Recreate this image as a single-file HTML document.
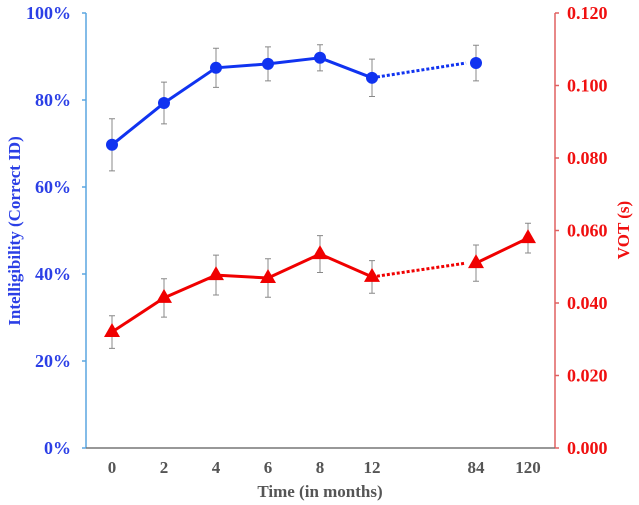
<!DOCTYPE html>
<html><head><meta charset="utf-8"><style>
body{margin:0;background:#fff}
svg{display:block;font-family:"Liberation Serif",serif;font-weight:bold}
</style></head><body>
<svg id="chart" width="639" height="505" viewBox="0 0 639 505" xmlns="http://www.w3.org/2000/svg">
<g id="axes"></g><g id="marks"></g>
</svg>
<script>
const categories = ["0","2","4","6","8","12","84","120"];
const slots = [0,1,2,3,4,5,7,8];
const intelligibility = [69.7,79.3,87.4,88.3,89.7,85.1,88.5,null];
const intelErr = [6.0,4.8,4.5,3.9,3.0,4.3,4.1,null];
const vot = [0.0320,0.0414,0.0477,0.0469,0.0535,0.0472,0.0510,0.0579];
const votErr = [0.0045,0.0053,0.0055,0.0053,0.0051,0.0045,0.0050,0.0041];
const leftTicks = [0,20,40,60,80,100];
const rightTicks = [0,0.02,0.04,0.06,0.08,0.10,0.12];

const NS="http://www.w3.org/2000/svg";
const X0=86,X1=555,Y0=448,Y1=13;
const xs=i=>112+slots[i]*52;
const yL=v=>Y0-(v/100)*(Y0-Y1);
const yR=v=>Y0-(v/0.12)*(Y0-Y1);
function mk(p,tag,at){const e=document.createElementNS(NS,tag);for(const k in at)e.setAttribute(k,at[k]);p.appendChild(e);return e;}
const axes=document.getElementById('axes'),marks=document.getElementById('marks');

let e;
e=mk(axes,'line',{x1:X0,y1:Y1,x2:X0,y2:Y0,stroke:'#5aa6e0','stroke-width':1.5});


e=mk(axes,'line',{x1:X1,y1:Y1,x2:X1,y2:Y0,stroke:'#e06060','stroke-width':1.5});


e=mk(axes,'line',{x1:X0,y1:Y0,x2:X1,y2:Y0,stroke:'#777','stroke-width':1.5});



leftTicks.forEach(t=>{
  mk(axes,'line',{x1:X0-4,y1:yL(t),x2:X0,y2:yL(t),stroke:'#5aa6e0','stroke-width':1.5});
  e=mk(axes,'text',{x:X0-15,y:yL(t)+6,'text-anchor':'end','font-size':18,fill:'#2b3fe6'});
  e.textContent=t+'%';
  
  
});
rightTicks.forEach(t=>{
  mk(axes,'line',{x1:X1,y1:yR(t),x2:X1+4,y2:yR(t),stroke:'#e06060','stroke-width':1.5});
  e=mk(axes,'text',{x:X1+12,y:yR(t)+6,'text-anchor':'start','font-size':18,fill:'#f01010'});
  e.textContent=t.toFixed(3);
  
  
});
categories.forEach((c,i)=>{
  e=mk(axes,'text',{x:xs(i),y:473,'text-anchor':'middle','font-size':17,fill:'#555'});
  e.textContent=c;
  
  
});
e=mk(axes,'text',{x:320,y:497,'text-anchor':'middle','font-size':17,fill:'#555'});
e.textContent='Time (in months)';


e=mk(axes,'text',{x:0,y:0,transform:'translate(20,231) rotate(-90)','text-anchor':'middle','font-size':17,fill:'#2b3fe6'});
e.textContent='Intelligibility (Correct ID)';


e=mk(axes,'text',{x:0,y:0,transform:'translate(629,230) rotate(-90)','text-anchor':'middle','font-size':17,fill:'#f01010'});
e.textContent='VOT (s)';



function series(vals,errs,yf,color,name,tri){
  const pts=[];vals.forEach((v,i)=>{if(v!==null)pts.push([xs(i),yf(v),i]);});
  pts.forEach(([x,y,i])=>{
    const lo=yf(vals[i]-errs[i]),hi=yf(vals[i]+errs[i]);
    e=mk(marks,'path',{d:`M${x},${hi}V${lo}M${x-3},${hi}H${x+3}M${x-3},${lo}H${x+3}`,stroke:'#888','stroke-width':1,fill:'none'});
    
    
  });
  for(let k=1;k<pts.length;k++){
    const a=pts[k-1],b=pts[k];const dotted=slots[b[2]]-slots[a[2]]>1;
    e=mk(marks,'line',{x1:a[0],y1:a[1],x2:dotted?b[0]-10:b[0],y2:b[1],stroke:color,'stroke-width':3,'stroke-dasharray':dotted?'3,2':'none'});
    
    
  }
  pts.forEach(([x,y])=>{
    if(tri) e=mk(marks,'polygon',{points:`${x},${y-9} ${x-8},${y+5} ${x+8},${y+5}`,fill:color});
    else e=mk(marks,'circle',{cx:x,cy:y,r:6,fill:color});
    
    
  });
}
series(intelligibility,intelErr,yL,'#1033f0','intelligibility',false);
series(vot,votErr,yR,'#f00000','vot',true);
</script>
</body></html>
